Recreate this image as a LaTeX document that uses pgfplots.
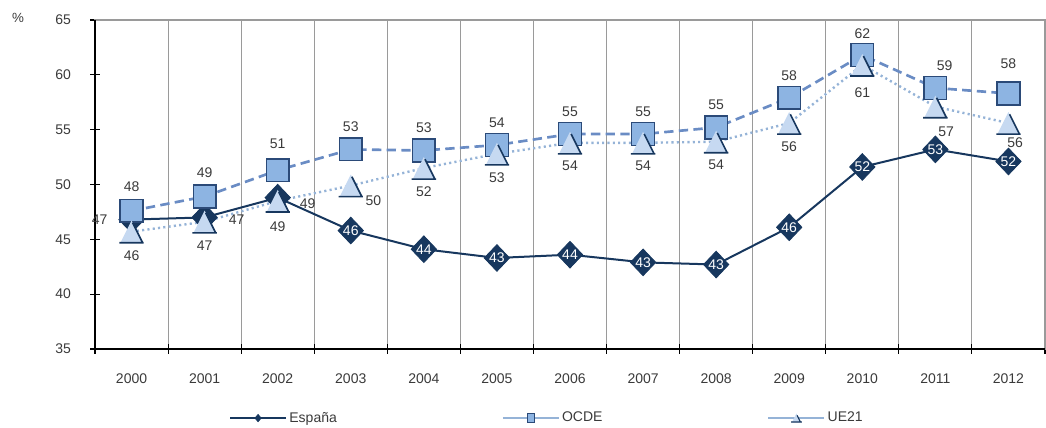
\documentclass[border=0pt]{standalone}
\usepackage{fontspec}
\setmainfont{Liberation Sans}
\usepackage{pgfplots}
\usepackage{pgfplotstable}
\pgfplotsset{compat=1.18}

\definecolor{espana}{HTML}{17375E}
\definecolor{ocdeline}{HTML}{6A8CC4}
\definecolor{ocdefill}{HTML}{8DB4E2}
\definecolor{ocdeedge}{HTML}{2B4A78}
\definecolor{ueline}{HTML}{95B3D7}
\definecolor{uefill}{HTML}{C6D9F1}
\definecolor{labelgray}{HTML}{3A3A3A}
\definecolor{gridgray}{HTML}{9A9A9A}

% diamond of nearly equal width and height
\pgfdeclareplotmark{bigdiamond}{%
  \pgfpathmoveto{\pgfqpoint{0pt}{\pgfplotmarksize}}%
  \pgfpathlineto{\pgfqpoint{0.95\pgfplotmarksize}{0pt}}%
  \pgfpathlineto{\pgfqpoint{0pt}{-\pgfplotmarksize}}%
  \pgfpathlineto{\pgfqpoint{-0.95\pgfplotmarksize}{0pt}}%
  \pgfpathclose
  \pgfusepathqfillstroke}
% light triangle with a dark base and right side
\pgfdeclareplotmark{uetri}{%
  \pgfpathmoveto{\pgfqpoint{0pt}{\pgfplotmarksize}}%
  \pgfpathlineto{\pgfqpoint{\pgfplotmarksize}{-\pgfplotmarksize}}%
  \pgfpathlineto{\pgfqpoint{-\pgfplotmarksize}{-\pgfplotmarksize}}%
  \pgfpathclose
  \pgfsetfillcolor{uefill}%
  \pgfusepathqfill
  \pgfsetstrokecolor{espana}%
  \pgfsetlinewidth{1.2pt}%
  \pgfpathmoveto{\pgfqpoint{-1.1\pgfplotmarksize}{-\pgfplotmarksize}}%
  \pgfpathlineto{\pgfqpoint{1.1\pgfplotmarksize}{-\pgfplotmarksize}}%
  \pgfpathmoveto{\pgfqpoint{0.1\pgfplotmarksize}{0.8\pgfplotmarksize}}%
  \pgfpathlineto{\pgfqpoint{\pgfplotmarksize}{-\pgfplotmarksize}}%
  \pgfusepathqstroke}

% x = year index (0 = 2000), lab = printed value, dx/dy = label offset in pt,
% tw = percentage of white in the label colour
\pgfplotstableread{
x y lab dx dy tw
0 46.8 47 -24 0 0
1 47.0 47 24 -2 0
2 48.8 49 22.5 -4.5 0
3 45.8 46 0 0 100
4 44.1 44 0 0 100
5 43.3 43 0 0 100
6 43.6 44 0 0 100
7 42.9 43 0 0 100
8 42.7 43 0 0 100
9 46.1 46 0 0 100
10 51.6 52 0 0 100
11 53.2 53 0 0 100
12 52.1 52 0 0 100
}\espanadata

\pgfplotstableread{
x y lab dx dy tw
0 47.6 48 0 18 0
1 48.9 49 0 18 0
2 51.3 51 0 20 0
3 53.2 53 0 17 0
4 53.1 53 0 17 0
5 53.6 54 0 17 0
6 54.6 55 0 17 0
7 54.6 55 0 17 0
8 55.2 55 0 17 0
9 57.9 58 0 17 0
10 61.8 62 0 16 0
11 58.8 59 7 17 0
12 58.3 58 0 22 0
}\ocdedata

\pgfplotstableread{
x y lab dx dy tw
0 45.7 46 0 -18 0
1 46.6 47 0 -18 0
2 48.5 49 0 -19 0
3 49.9 50 17 -11 0
4 51.5 52 0 -18 0
5 52.8 53 0 -18 0
6 53.8 54 0 -17 0
7 53.8 54 0 -17 0
8 53.9 54 0 -17 0
9 55.6 56 0 -18 0
10 60.9 61 0 -21 0
11 57.1 57 8 -19 0
12 55.6 56 5 -15 0
}\uedata

\begin{document}
\begin{tikzpicture}
\path[use as bounding box] (0pt,0pt) rectangle (784.5pt,321pt);
\node[font=\fontsize{10}{12}\selectfont, text=labelgray] at (13.5pt,307.5pt) {\%};
\begin{axis}[
  at={(71.25pt,59.25pt)}, anchor=south west,
  scale only axis, width=712.5pt, height=246.75pt,
  clip=false,
  xmin=-0.5, xmax=12.5, ymin=35, ymax=65,
  ytick={35,40,...,65},
  xtick={-0.5,0.5,...,12.5}, xticklabels={},
  extra x ticks={0,1,...,12},
  extra x tick labels={2000,2001,2002,2003,2004,2005,2006,2007,2008,2009,2010,2011,2012},
  extra x tick style={major tick length=0pt, grid=none},
  xmajorgrids, major grid style={gridgray, line width=0.8pt},
  tick align=center, major tick length=7pt,
  tick style={black, line width=0.8pt},
  xtick pos=bottom, ytick pos=left,
  axis line style={gridgray, line width=0.8pt},
  /pgf/number format/assume math mode=true,
  ticklabel style={font=\fontsize{10.5}{12}\selectfont, text=labelgray},
  xticklabel style={yshift=-15pt},
  yticklabel style={xshift=-11pt},
  /pgf/number format/.cd, 1000 sep={},
  /pgfplots/.cd,
  point meta=explicit symbolic,
  visualization depends on={\thisrow{dx}\as\ldx},
  visualization depends on={\thisrow{dy}\as\ldy},
  visualization depends on={\thisrow{tw}\as\ltw},
  nodes near coords style={anchor=center, xshift=\ldx pt, yshift=\ldy pt,
    font=\fontsize{10.5}{12}\selectfont, text=white!\ltw!labelgray, inner sep=0pt},
  legend columns=3,
  legend style={at={(0.137,-0.21)}, anchor=west, draw=none, fill=none,
    font=\fontsize{10.5}{12}\selectfont, text=labelgray,
    /tikz/every even column/.append style={column sep=122pt}},
]
\addlegendimage{legend image code/.code={
  \draw[espana, line width=1pt] (0pt,0pt) -- (42pt,0pt);
  \fill[espana] (21pt,2.8pt) -- (23.4pt,0pt) -- (21pt,-2.8pt) -- (18.6pt,0pt) -- cycle;}}
\addlegendentry{España}
\addlegendimage{legend image code/.code={
  \draw[ueline, line width=0.9pt] (0pt,0pt) -- (42pt,0pt);
  \filldraw[fill=ocdefill, draw=ocdeedge, line width=0.9pt] (18.5pt,-3.5pt) rectangle (23.5pt,3.5pt);}}
\addlegendentry{OCDE}
\addlegendimage{legend image code/.code={
  \draw[ueline, line width=0.9pt] (0pt,0pt) -- (42pt,0pt);
  \fill[uefill] (21pt,3pt) -- (24pt,-3pt) -- (18pt,-3pt) -- cycle;
  \draw[espana, line width=0.9pt] (17pt,-3pt) -- (25pt,-3pt) (21.5pt,2pt) -- (24pt,-3pt);}}
\addlegendentry{UE21}

% Spain
\addplot[forget plot, espana, line width=1.5pt,
  mark=bigdiamond, mark size=10pt,
  mark options={solid, fill=espana, draw=espana, line width=0.6pt},
  nodes near coords]
  table[x=x, y=y, meta=lab] {\espanadata};

% OECD
\addplot[forget plot, ocdeline, line width=2pt, dash pattern=on 7pt off 4pt,
  mark=square*, mark size=8.5pt,
  mark options={solid, fill=ocdefill, draw=ocdeedge, line width=1.1pt},
  nodes near coords]
  table[x=x, y=y, meta=lab] {\ocdedata};

% EU21
\addplot[forget plot, ueline, line width=1.8pt, dash pattern=on 1.6pt off 2.4pt,
  mark=uetri, mark size=8.3pt, mark options={solid},
  nodes near coords]
  table[x=x, y=y, meta=lab] {\uedata};

\draw[black, line width=1.3pt] (rel axis cs:0,1) -- (rel axis cs:0,0) -- (rel axis cs:1,0);
\end{axis}
\end{tikzpicture}
\end{document}
